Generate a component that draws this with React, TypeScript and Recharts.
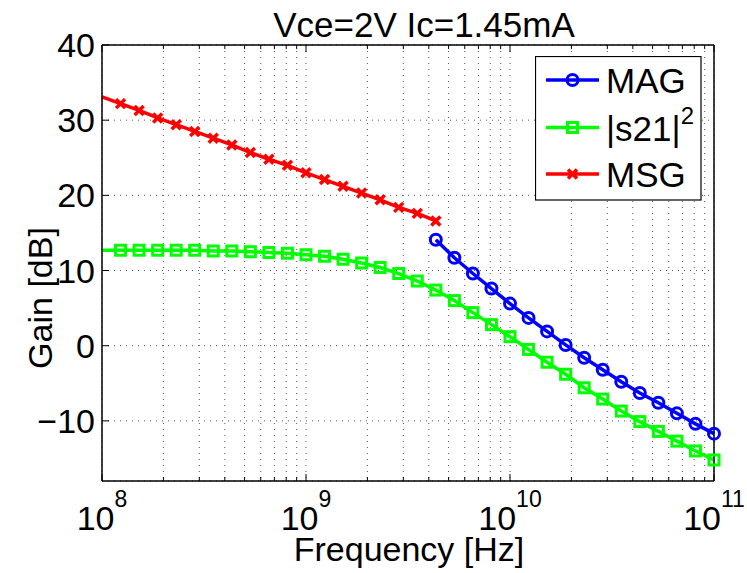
import { LineChart, Line, XAxis, YAxis, CartesianGrid, Legend } from "recharts";

const FONT = "'Liberation Sans', Arial, Helvetica, sans-serif";

// frequency points, 11 per decade
const freqHz = [
  1e8, 1.233e8, 1.52e8, 1.874e8, 2.31e8, 2.848e8, 3.511e8, 4.329e8, 5.337e8, 6.579e8, 8.111e8,
  1e9, 1.233e9, 1.52e9, 1.874e9, 2.31e9, 2.848e9, 3.511e9, 4.329e9, 5.337e9, 6.579e9, 8.111e9,
  1e10, 1.233e10, 1.52e10, 1.874e10, 2.31e10, 2.848e10, 3.511e10, 4.329e10, 5.337e10, 6.579e10, 8.111e10,
  1e11,
];

const magDb = [
  null, null, null, null, null, null, null, null, null, null, null,
  null, null, null, null, null, null, null, 14.1, 11.7, 9.6, 7.6,
  5.6, 3.7, 1.9, 0.1, -1.6, -3.2, -4.8, -6.3, -7.6, -9.0, -10.4,
  -11.7,
];

const s21Db = [
  12.7, 12.7, 12.7, 12.7, 12.7, 12.7, 12.6, 12.6, 12.5, 12.4, 12.3,
  12.1, 11.9, 11.5, 11.0, 10.4, 9.6, 8.6, 7.4, 6.0, 4.4, 2.8,
  1.2, -0.5, -2.2, -3.8, -5.6, -7.1, -8.7, -10.1, -11.4, -12.7, -14.0,
  -15.2,
];

const msgDb = [
  33.1, 32.2, 31.3, 30.3, 29.4, 28.5, 27.6, 26.7, 25.7, 24.8, 24.0,
  23.0, 22.1, 21.2, 20.3, 19.4, 18.4, 17.6, 16.6, null, null, null,
  null, null, null, null, null, null, null, null, null, null, null,
  null,
];

const freqTicks = [
  1e8, 2e8, 3e8, 4e8, 5e8, 6e8, 7e8, 8e8, 9e8,
  1e9, 2e9, 3e9, 4e9, 5e9, 6e9, 7e9, 8e9, 9e9,
  1e10, 2e10, 3e10, 4e10, 5e10, 6e10, 7e10, 8e10, 9e10,
  1e11,
];
const gainTicks = [-10, 0, 10, 20, 30, 40];

const rows = freqHz.map((f, i) => ({ f, k: i, mag: magDb[i], s21: s21Db[i], msg: msgDb[i] }));

const isDecade = (v: number) => Math.abs(Math.log10(v) - Math.round(Math.log10(v))) < 1e-6;

function BottomTick({ x, y, payload }: any) {
  const v = payload.value;
  const major = isDecade(v);
  return (
    <g>
      <line x1={x} x2={x} y1={y} y2={y - (major ? 7 : 4)} stroke="#000" />
      {major && (
        <text x={x} y={y + 49} textAnchor="middle" fontSize={34} fill="#000" fontFamily={FONT}>
          10
          <tspan dy={-23} fontSize={23}>
            {Math.round(Math.log10(v))}
          </tspan>
        </text>
      )}
    </g>
  );
}

function TopTick({ x, y, payload }: any) {
  const major = isDecade(payload.value);
  return <line x1={x} x2={x} y1={y} y2={y + (major ? 7 : 4)} stroke="#000" />;
}

function LeftTick({ x, y, payload }: any) {
  return (
    <g>
      <line x1={x} x2={x + 7} y1={y} y2={y} stroke="#000" />
      <text x={x - 7} y={y} dy={12} textAnchor="end" fontSize={34} fill="#000" fontFamily={FONT}>
        {payload.value < 0 ? "\u2212" + Math.abs(payload.value) : payload.value}
      </text>
    </g>
  );
}

function RightTick({ x, y }: any) {
  return <line x1={x} x2={x - 7} y1={y} y2={y} stroke="#000" />;
}

function CircleDot({ cx, cy, payload }: any) {
  if (cx == null || cy == null || payload?.k === 0) return <g />;
  return <circle cx={cx} cy={cy} r={5.5} fill="none" stroke="#0000ff" strokeWidth={3} />;
}

function SquareDot({ cx, cy, payload }: any) {
  if (cx == null || cy == null || payload?.k === 0) return <g />;
  return <rect x={cx - 5} y={cy - 5} width={10} height={10} fill="none" stroke="#00ff00" strokeWidth={3} />;
}

function CrossDot({ cx, cy, payload }: any) {
  if (cx == null || cy == null || payload?.k === 0) return <g />;
  return (
    <g stroke="#ff0000" strokeWidth={3.5}>
      <line x1={cx - 4.5} y1={cy - 4.5} x2={cx + 4.5} y2={cy + 4.5} />
      <line x1={cx - 4.5} y1={cy + 4.5} x2={cx + 4.5} y2={cy - 4.5} />
    </g>
  );
}

function LegendBox() {
  const entries = [
    { label: "MAG", color: "#0000ff", Dot: CircleDot, y: 24 },
    { label: "s21", color: "#00ff00", Dot: SquareDot, y: 71.5 },
    { label: "MSG", color: "#ff0000", Dot: CrossDot, y: 118 },
  ];
  return (
    <svg width={167} height={145} style={{ display: "block" }}>
      <rect x={0.5} y={0.5} width={165.5} height={143.5} fill="#fff" stroke="#000" strokeWidth={1.2} />
      {entries.map((e) => (
        <g key={e.label}>
          <line x1={11} x2={64} y1={e.y} y2={e.y} stroke={e.color} strokeWidth={3.5} />
          <e.Dot cx={37.5} cy={e.y} payload={{ k: 1 }} />
          <text x={71} y={e.y + 13} fontSize={35} fill="#000" fontFamily={FONT}>
            {e.label === "s21" ? (
              <>
                |s21|
                <tspan dy={-17} fontSize={24}>
                  2
                </tspan>
              </>
            ) : (
              e.label
            )}
          </text>
        </g>
      ))}
    </svg>
  );
}

export default function App() {
  return (
    <div style={{ width: 747, height: 573, background: "#fff", fontFamily: FONT }}>
      <style>{"body{margin:0;}"}</style>
      <LineChart width={747} height={573} data={rows} margin={{ top: 44, right: 32, bottom: 91, left: 101 }}>
        <CartesianGrid xAxisId="b" yAxisId="l" stroke="#555" strokeDasharray="1 5" />
        <XAxis
          xAxisId="b"
          dataKey="f"
          type="number"
          scale="log"
          domain={[1e8, 1e11]}
          ticks={freqTicks}
          interval={0}
          height={1}
          tickSize={0}
          tickMargin={0}
          tickLine={false}
          axisLine={{ stroke: "#000", strokeWidth: 1.5 }}
          tick={BottomTick}
          label={({ viewBox }: any) => (
            <text
              x={viewBox.x + viewBox.width / 2 + 1}
              y={viewBox.y + 80}
              textAnchor="middle"
              fontSize={34}
              fill="#000"
              fontFamily={FONT}
            >
              Frequency [Hz]
            </text>
          )}
        />
        <XAxis
          xAxisId="t"
          orientation="top"
          dataKey="f"
          type="number"
          scale="log"
          domain={[1e8, 1e11]}
          ticks={freqTicks}
          interval={0}
          height={1}
          tickSize={0}
          tickMargin={0}
          tickLine={false}
          axisLine={{ stroke: "#000", strokeWidth: 1.5 }}
          tick={TopTick}
          label={({ viewBox }: any) => (
            <text
              x={viewBox.x + viewBox.width / 2 + 16}
              y={viewBox.y + viewBox.height - 8}
              textAnchor="middle"
              fontSize={35}
              fill="#000"
              fontFamily={FONT}
            >
              Vce=2V Ic=1.45mA
            </text>
          )}
        />
        <YAxis
          yAxisId="l"
          type="number"
          domain={[-18, 40]}
          ticks={gainTicks}
          interval={0}
          width={1}
          tickSize={0}
          tickMargin={0}
          tickLine={false}
          axisLine={{ stroke: "#000", strokeWidth: 1.5 }}
          tick={LeftTick}
          label={() => (
            <text
              x={52}
              y={298}
              transform={`rotate(-90 52 298)`}
              textAnchor="middle"
              fontSize={34}
              fill="#000"
              fontFamily={FONT}
            >
              Gain [dB]
            </text>
          )}
        />
        <YAxis
          yAxisId="r"
          orientation="right"
          type="number"
          domain={[-18, 40]}
          ticks={gainTicks}
          interval={0}
          width={1}
          tickSize={0}
          tickMargin={0}
          tickLine={false}
          axisLine={{ stroke: "#000", strokeWidth: 1.5 }}
          tick={RightTick}
        />
        <Line
          xAxisId="b"
          yAxisId="l"
          type="linear"
          dataKey="mag"
          stroke="#0000ff"
          strokeWidth={3.5}
          dot={CircleDot}
          activeDot={false}
          connectNulls={false}
          isAnimationActive={false}
        />
        <Line
          xAxisId="b"
          yAxisId="l"
          type="linear"
          dataKey="s21"
          stroke="#00ff00"
          strokeWidth={3.5}
          dot={SquareDot}
          activeDot={false}
          isAnimationActive={false}
        />
        <Line
          xAxisId="b"
          yAxisId="l"
          type="linear"
          dataKey="msg"
          stroke="#ff0000"
          strokeWidth={3.5}
          dot={CrossDot}
          activeDot={false}
          connectNulls={false}
          isAnimationActive={false}
        />
        <Legend
          layout="horizontal"
          verticalAlign="middle"
          align="center"
          content={LegendBox}
          wrapperStyle={{ left: 535, top: 56, width: 167, height: 145 }}
        />
      </LineChart>
    </div>
  );
}
